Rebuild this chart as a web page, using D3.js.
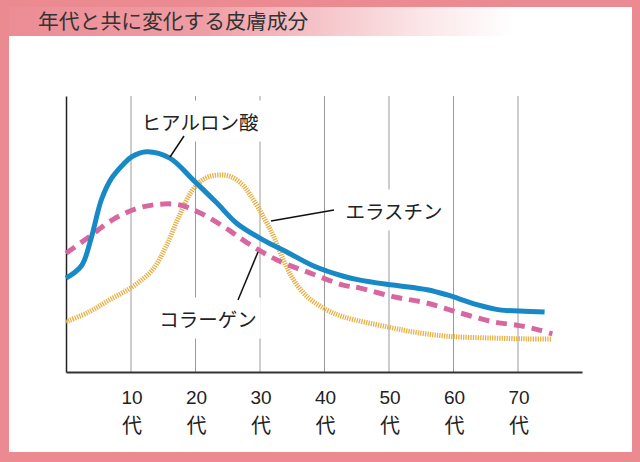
<!DOCTYPE html>
<html><head><meta charset="utf-8">
<script src="https://cdn.jsdelivr.net/npm/d3@7"></script>
<style>html,body{margin:0;padding:0;background:#fff;}svg{display:block;}</style>
</head><body>
<svg id="c" width="640" height="462"></svg>
<script>
const title = "年代と共に変化する皮膚成分";
const tickAges = [10, 20, 30, 40, 50, 60, 70];
const tickSuffix = "代";

const hyaluronAges   = [0, 2.4, 3.9, 5.5, 7.1, 8.9, 10.2, 12.5, 16.1, 19.7, 23.4, 26.5, 30.6, 34.3, 38.4, 43.0, 45.6, 50.7, 56.0, 59.0, 63.7, 67.2, 70.3, 74.2];
const hyaluronValues = [34, 38.5, 48.5, 62.5, 70.3, 75.3, 78.0, 79.8, 77.5, 69.6, 61.2, 53.8, 47.8, 43.4, 38.4, 34.7, 33.3, 31.5, 29.8, 28.0, 24.4, 22.5, 22.1, 21.7];

const collagenAges   = [0, 3.6, 7.2, 10.8, 14.5, 17.7, 20.9, 24.5, 28.1, 32.7, 37.9, 43.0, 45.6, 50.7, 55.9, 61.1, 66.2, 70.3, 73.4, 75.4];
const collagenValues = [43.0, 49.0, 55.1, 59.1, 60.8, 60.5, 57.5, 52.6, 46.8, 40.6, 35.8, 31.5, 30.4, 27.3, 25.0, 21.4, 18.2, 16.8, 15.2, 13.8];

const elastinAges   = [0, 3.6, 6.7, 10.3, 13.4, 15.5, 17.5, 19.6, 21.6, 23.7, 25.5, 27.3, 28.6, 30.6, 32.2, 33.7, 35.3, 37.4, 40.4, 43.0, 49.7, 54.9, 60.0, 66.2, 71.4, 75.2];
const elastinValues = [18.2, 21.8, 26.1, 30.9, 37.0, 45.4, 56.3, 65.9, 70.2, 71.4, 70.8, 68.0, 64.0, 56.3, 49.0, 40.6, 33.3, 27.3, 22.5, 20.0, 16.4, 14.1, 12.8, 12.3, 12.0, 12.0];

const seriesNames = ["ヒアルロン酸", "エラスチン", "コラーゲン"];

const svg = d3.select("#c");
const W = 640, H = 462;

// frame
svg.append("rect").attr("x",0).attr("y",0).attr("width",W).attr("height",H).attr("fill","#ec8a92");
svg.append("rect").attr("x",9).attr("y",7).attr("width",623).attr("height",445).attr("fill","#ffffff");
const defs = svg.append("defs");
const grad = defs.append("linearGradient").attr("id","tg").attr("x1","0").attr("x2","1").attr("y1","0").attr("y2","0");
grad.append("stop").attr("offset","0").attr("stop-color","#ec8c95");
grad.append("stop").attr("offset","0.38").attr("stop-color","#ef9ca4");
grad.append("stop").attr("offset","0.62").attr("stop-color","#f5c5c9");
grad.append("stop").attr("offset","0.82").attr("stop-color","#fbe6e8");
grad.append("stop").attr("offset","1").attr("stop-color","#ffffff");
svg.append("rect").attr("x",9).attr("y",7).attr("width",505).attr("height",29).attr("fill","url(#tg)");
svg.append("text").attr("x",38).attr("y",29).text(title)
  .attr("font-family","'Noto Sans CJK JP'").attr("font-size",20.8).attr("fill","#333");

const x = d3.scaleLinear().domain([0, 80]).range([66, 582]);
const y = d3.scaleLinear().domain([0, 100]).range([372, 96]);

// gridlines
const grid = svg.append("g").attr("transform","translate(0,372)")
  .call(d3.axisBottom(x).tickValues(tickAges).tickSize(-(372-96)).tickFormat(""));
grid.select(".domain").remove();
grid.selectAll(".tick line").attr("stroke","#9a9a9a").attr("stroke-width",1);

const fontJP = "'Noto Sans CJK JP'";
const curve = d3.curveCatmullRom.alpha(0.5);
function lineOf(ages, vals){
  return d3.line().x((d,i)=>x(ages[i])).y((d,i)=>y(vals[i])).curve(curve)(ages);
}

// label boxes that hide grid lines
function label(txt, cx, cy){
  const g = svg.append("g");
  const r = g.append("rect").attr("fill","#fff");
  const t = g.append("text").attr("x",cx).attr("y",cy).attr("text-anchor","middle")
    .attr("dominant-baseline","central").attr("font-family",fontJP).attr("font-size",19.5).attr("fill","#222").text(txt);
  const b = t.node().getBBox();
  r.attr("x",b.x-4).attr("y",b.y-6).attr("width",b.width+8).attr("height",b.height+12);
  return g;
}
label(seriesNames[0], 200, 121);
label(seriesNames[1], 394, 210);
label(seriesNames[2], 208, 318);

// axes lines
svg.append("g").attr("transform","translate(66,0)")
  .call(d3.axisLeft(y).tickValues([]).tickSizeOuter(0))
  .select(".domain").attr("stroke","#222").attr("stroke-width",1.5);
const xa = svg.append("g").attr("transform","translate(0,372)")
  .call(d3.axisBottom(x).tickValues(tickAges).tickSize(0).tickPadding(0).tickFormat(""));
xa.select(".domain").attr("stroke","#333").attr("stroke-width",2);
xa.selectAll(".tick").each(function(d){
  const t = d3.select(this).append("text").attr("fill","#222").attr("font-family",fontJP).attr("text-anchor","middle");
  t.append("tspan").attr("x",1).attr("y",32).attr("font-family","'Liberation Sans'").attr("font-size",19).text(d);
  t.append("tspan").attr("x",1).attr("y",61).attr("font-size",20).text(tickSuffix);
});

// series
svg.append("path").attr("d", lineOf(elastinAges, elastinValues)).attr("fill","none")
  .attr("stroke","#e7b044").attr("stroke-width",5).attr("stroke-dasharray","1.3,1.1");
svg.append("path").attr("d", lineOf(collagenAges, collagenValues)).attr("fill","none")
  .attr("stroke","#d9679f").attr("stroke-width",5).attr("stroke-dasharray","11,7");
svg.append("path").attr("d", lineOf(hyaluronAges, hyaluronValues)).attr("fill","none")
  .attr("stroke","#1789c6").attr("stroke-width",5);

// leader lines
const leaders = [[170,157,184,136],[271,221,334,210],[258,252,238,300]];
svg.selectAll("line.lead").data(leaders).enter().append("line").attr("class","lead")
  .attr("x1",d=>d[0]).attr("y1",d=>d[1]).attr("x2",d=>d[2]).attr("y2",d=>d[3])
  .attr("stroke","#111").attr("stroke-width",1.5);
</script>
</body></html>
